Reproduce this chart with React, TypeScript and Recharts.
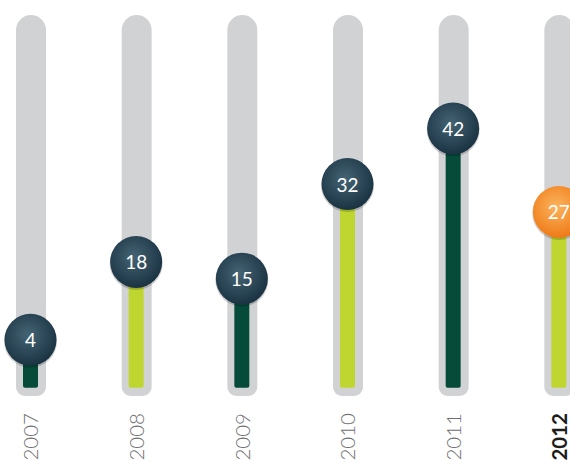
import React from 'react';
import { BarChart, Bar, XAxis, YAxis, Cell } from 'recharts';

const YEARS = ['2007', '2008', '2009', '2010', '2011', '2012'];
const VALUES = [4, 18, 15, 32, 42, 27];
const HIGHLIGHT_YEAR = '2012';

const DOMAIN_MIN = -6.1;
const DOMAIN_MAX = 62.4;
const BAR_BASE = -4.6;

const TRACK_COLOR = '#d1d2d4';
const DARK_BAR = '#064a3a';
const LIME_BAR = '#c0d630';

const data = YEARS.map((year, i) => ({ year, value: VALUES[i] }));

const InnerShape = (props: any) => {
  const { x, y, width, height, index, fill } = props;
  const cx = x + width / 2;
  const cy = y;
  const hl = YEARS[index] === HIGHLIGHT_YEAR;
  const gid = `grad-${index}`;
  return (
    <g>
      <rect x={x} y={y} width={width} height={height} rx={2} ry={2} fill={fill} />
      <defs>
        <radialGradient id={gid} cx="45%" cy="40%" r="60%">
          {hl ? (
            <>
              <stop offset="0%" stopColor="#fbb45e" />
              <stop offset="100%" stopColor="#ef7a17" />
            </>
          ) : (
            <>
              <stop offset="0%" stopColor="#456473" />
              <stop offset="100%" stopColor="#1a3343" />
            </>
          )}
        </radialGradient>
      </defs>
      <circle cx={cx} cy={cy + 1.5} r={26.5} fill="rgba(0,0,0,0.18)" />
      <circle cx={cx} cy={cy} r={26} fill={`url(#${gid})`} />
      <text
        x={cx}
        y={cy}
        textAnchor="middle"
        dominantBaseline="central"
        fill="#ffffff"
        fontSize={19}
        fontFamily="Lato, 'Open Sans', sans-serif"
      >
        {VALUES[index]}
      </text>
    </g>
  );
};

const YearTick = (props: any) => {
  const { x, payload } = props;
  const hl = payload.value === HIGHLIGHT_YEAR;
  return (
    <text
      transform={`translate(${x + 7.5}, 413) rotate(-90)`}
      textAnchor="end"
      fontSize={20.5}
      fontFamily="Lato, 'Open Sans', sans-serif"
      fontWeight={hl ? 700 : 300}
      fill={hl ? '#1d1d1b' : '#6d6e71'}
    >
      {payload.value}
    </text>
  );
};

export default function App() {
  return (
    <div style={{ position: 'absolute', left: 0, top: 0, width: 570, height: 462, overflow: 'hidden', background: '#ffffff' }}>
      <div style={{ position: 'absolute', left: -22, top: 0 }}>
        <BarChart width={634} height={462} data={data} margin={{ top: 15, right: 0, bottom: 0, left: 0 }}>
          <XAxis
            xAxisId="track"
            dataKey="year"
            height={66}
            axisLine={false}
            tickLine={false}
            tickSize={0}
            tickMargin={0}
            interval={0}
            tick={<YearTick />}
          />
          <XAxis xAxisId="inner" dataKey="year" hide />
          <YAxis hide domain={[DOMAIN_MIN, DOMAIN_MAX]} allowDataOverflow />
          <Bar
            xAxisId="track"
            dataKey={() => [DOMAIN_MIN, DOMAIN_MAX]}
            barSize={30}
            fill={TRACK_COLOR}
            radius={[15, 15, 9, 9]}
            isAnimationActive={false}
          />
          <Bar
            xAxisId="inner"
            dataKey={(d: any) => [BAR_BASE, d.value]}
            barSize={15}
            isAnimationActive={false}
            shape={<InnerShape />}
          >
            {data.map((d, i) => (
              <Cell key={d.year} fill={i % 2 === 0 ? DARK_BAR : LIME_BAR} />
            ))}
          </Bar>
        </BarChart>
      </div>
    </div>
  );
}
